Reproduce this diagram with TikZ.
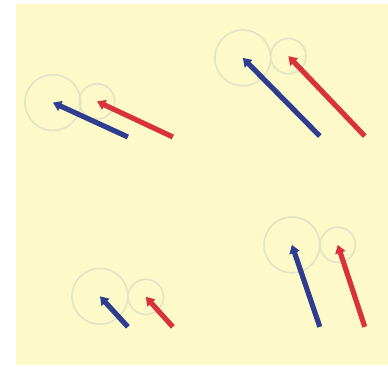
\documentclass[tikz,border=0pt]{standalone}
\usepackage{xcolor}
\usepackage{tikz}
\usetikzlibrary{arrows.meta}
\definecolor{VLBlue}{HTML}{2E3D8F}
\definecolor{VLRed}{HTML}{D8323A}
\definecolor{VLRing}{HTML}{E1E5C4}
\definecolor{VLBack}{HTML}{FDF9C8}

\begin{document}
\begin{tikzpicture}[x=1cm,y=1cm,
  ring/.style={VLRing,line width=1.6pt},
  vec/.style={line width=5pt,-{Triangle[length=8pt,width=10pt]}}]
\path[use as bounding box] (0,0) rectangle (13.20,12.48);
\fill[VLBack] (0.54,0.07) rectangle (13.20,12.36);
\coordinate (bigA) at (1.80,8.99);
\coordinate (smallA) at (3.30,9.03);
\coordinate (tailBA) at (4.35,7.82);
\coordinate (tailRA) at (5.88,7.82);
\draw[ring] (bigA) circle (0.95);
\draw[ring] (smallA) circle (0.60);
\draw[vec,VLBlue] (tailBA) -- (bigA);
\draw[vec,VLRed] (tailRA) -- (smallA);
\coordinate (bigB) at (8.26,10.51);
\coordinate (smallB) at (9.81,10.57);
\coordinate (tailBB) at (10.88,7.85);
\coordinate (tailRB) at (12.41,7.85);
\draw[ring] (bigB) circle (0.95);
\draw[ring] (smallB) circle (0.60);
\draw[vec,VLBlue] (tailBB) -- (bigB);
\draw[vec,VLRed] (tailRB) -- (smallB);
\coordinate (bigC) at (3.40,2.40);
\coordinate (smallC) at (4.96,2.38);
\coordinate (tailBC) at (4.35,1.36);
\coordinate (tailRC) at (5.88,1.36);
\draw[ring] (bigC) circle (0.95);
\draw[ring] (smallC) circle (0.60);
\draw[vec,VLBlue] (tailBC) -- (bigC);
\draw[vec,VLRed] (tailRC) -- (smallC);
\coordinate (bigD) at (9.93,4.15);
\coordinate (smallD) at (11.49,4.15);
\coordinate (tailBD) at (10.88,1.36);
\coordinate (tailRD) at (12.41,1.36);
\draw[ring] (bigD) circle (0.95);
\draw[ring] (smallD) circle (0.60);
\draw[vec,VLBlue] (tailBD) -- (bigD);
\draw[vec,VLRed] (tailRD) -- (smallD);
\end{tikzpicture}
\end{document}
